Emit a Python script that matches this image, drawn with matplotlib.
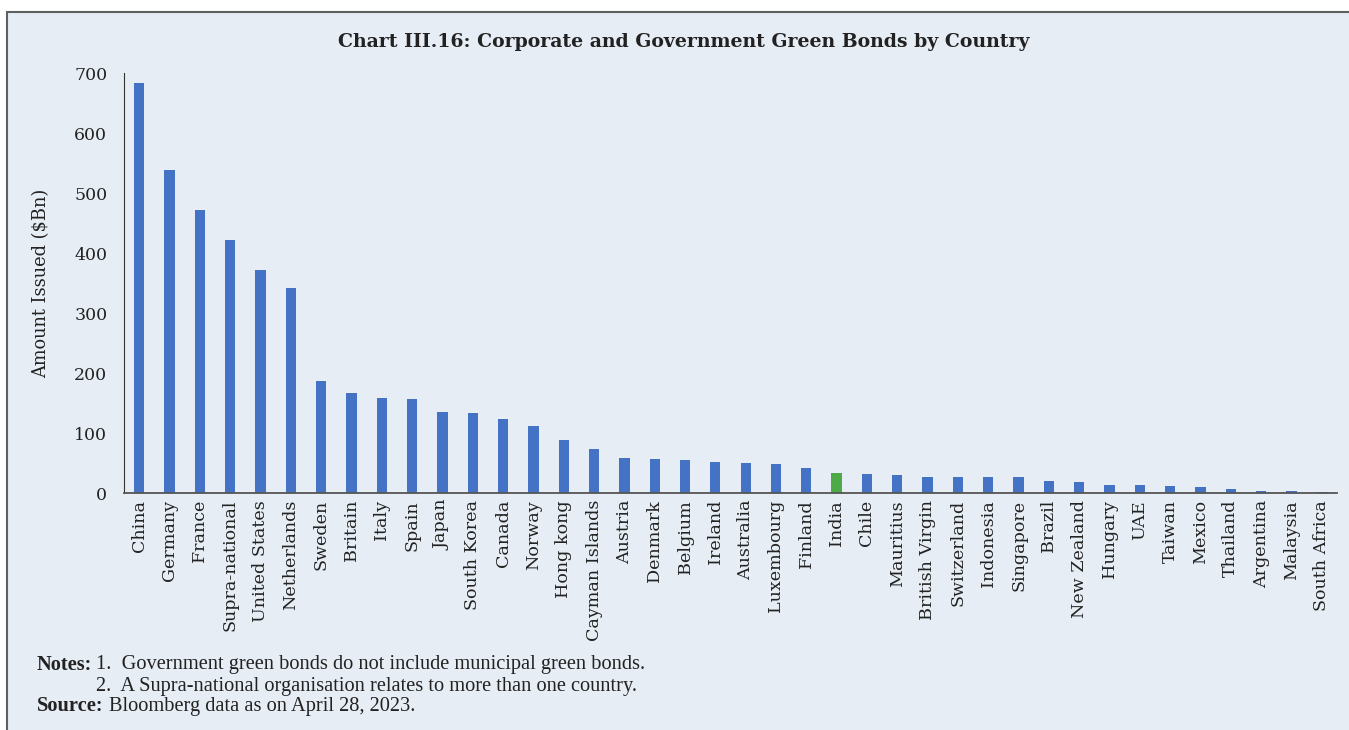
import matplotlib
matplotlib.use("Agg")
import matplotlib.pyplot as plt
from matplotlib.patches import Rectangle

countries = [
    "China", "Germany", "France", "Supra-national", "United States", "Netherlands",
    "Sweden", "Britain", "Italy", "Spain", "Japan", "South Korea", "Canada", "Norway",
    "Hong kong", "Cayman Islands", "Austria", "Denmark", "Belgium", "Ireland",
    "Australia", "Luxembourg", "Finland", "India", "Chile", "Mauritius",
    "British Virgin", "Switzerland", "Indonesia", "Singapore", "Brazil",
    "New Zealand", "Hungary", "UAE", "Taiwan", "Mexico", "Thailand", "Argentina",
    "Malaysia", "South Africa",
]
amount_bn = [
    683, 539, 472, 422, 372, 342,
    186, 167, 159, 157, 135, 133, 124, 111,
    88, 73, 59, 57, 55, 52,
    50, 48, 41, 34, 32, 30,
    27, 27, 26, 26, 20,
    18, 14, 13, 12, 10, 7, 4,
    4, 2,
]
highlight = "India"
y_ticks = [0, 100, 200, 300, 400, 500, 600, 700]

BLUE = "#4472C4"
GREEN = "#4EAA46"
BG = "#E6EDF4"

W, H = 1349, 730
fig = plt.figure(figsize=(W / 100, H / 100), dpi=100)
fig.patch.set_facecolor("white")

# panel frame behind everything
fig.patches.append(Rectangle((7 / W, -0.01), 1.0, 1 - 12 / H + 0.01,
                             transform=fig.transFigure, facecolor=BG,
                             edgecolor="#606060", linewidth=1.5, zorder=-10))

ax = fig.add_axes([124 / W, 237 / H, (1337 - 124) / W, 420 / H])
ax.set_facecolor("none")
colors = [GREEN if c == highlight else BLUE for c in countries]
x = range(len(countries))
ax.bar(x, amount_bn, width=0.34, color=colors, zorder=2)

ax.set_xlim(-0.5, len(countries) - 0.5)
ax.set_ylim(0, 700)
ax.set_yticks(y_ticks)
ax.set_yticklabels([str(t) for t in y_ticks], fontfamily="DejaVu Serif", fontsize=12.5,
                   color="#222222")
ax.set_xticks(list(x))
ax.set_xticklabels(countries, rotation=90, fontfamily="DejaVu Serif", fontsize=12.6,
                   color="#222222")
ax.tick_params(axis="y", length=0, pad=12)
ax.tick_params(axis="x", length=0, pad=5)
for s in ("top", "right"):
    ax.spines[s].set_visible(False)
ax.spines["left"].set_color("#333333")
ax.spines["bottom"].set_color("#555555")
ax.spines["bottom"].set_linewidth(1.3)
ax.set_ylabel("Amount Issued ($Bn)", fontfamily="DejaVu Serif", fontsize=12.8,
              color="#222222", labelpad=17)

fig.text(684 / W, 1 - 42 / H,
         "Chart III.16: Corporate and Government Green Bonds by Country",
         ha="center", va="center", fontfamily="DejaVu Serif", fontweight="bold",
         fontsize=13.6, color="#222222")

note_font = dict(fontfamily="Liberation Serif", fontsize=14.7, color="#222222", va="center")
fig.text(37 / W, 1 - 665 / H, "Notes:", fontweight="bold", **note_font)
fig.text(96 / W, 1 - 665 / H,
         "1.  Government green bonds do not include municipal green bonds.", **note_font)
fig.text(96 / W, 1 - 686 / H,
         "2.  A Supra-national organisation relates to more than one country.", **note_font)
fig.text(37 / W, 1 - 706 / H, "Source:", fontweight="bold", **note_font)
fig.text(109 / W, 1 - 706 / H, "Bloomberg data as on April 28, 2023.", **note_font)

fig.savefig("out.png", dpi=100)
